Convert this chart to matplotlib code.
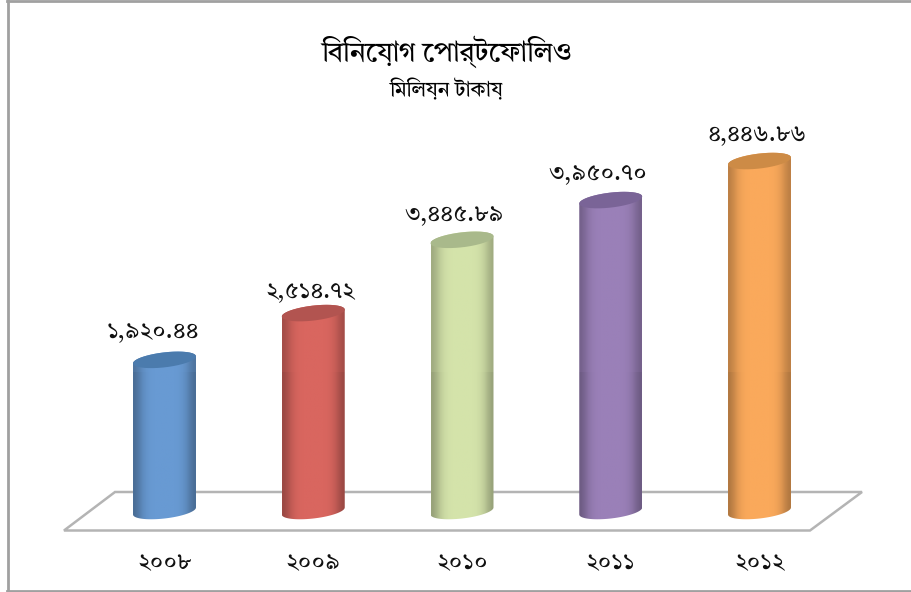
import matplotlib
matplotlib.use("Agg")
import matplotlib.pyplot as plt
from matplotlib.patches import PathPatch, Polygon
from matplotlib.path import Path
from matplotlib.colors import to_rgb
import numpy as np

plt.rcParams["font.family"] = ["Tiro Bangla", "Noto Serif Bengali", "DejaVu Sans"]

W, H = 911, 592

# matplotlib has no text shaper, so pre-base vowel signs are typed before
# their consonant to land where a reader expects them
TITLE = "িবিনেয়াগ েপার্টেফািলও"
SUBTITLE = "িমিলয়ন টাকায়"
YEARS = ["২০০৮", "২০০৯", "২০১০", "২০১১", "২০১২"]
VALUES = [1920.44, 2514.72, 3445.89, 3950.70, 4446.86]
VALUE_LABELS = ["১,৯২০.৪৪", "২,৫১৪.৭২", "৩,৪৪৫.৮৯", "৩,৯৫০.৭০", "৪,৪৪৬.৮৬"]

COLORS = ["#689ad3", "#d9665f", "#d4e3aa", "#9a80b8", "#faa95b"]
CAPS = ["#4b7bad", "#b25450", "#a9b98b", "#7a6497", "#cd8b46"]
LABEL_SHIFT = [(-12, 28), (-3, 21), (-8, 25), (-13, 26), (-3, 26)]

# pixel scale of the value axis and the category axis
PX_PER_UNIT = 0.0787
PX_PER_CAT = 148.75
X0_PX, BASE_PX = 164.5, 511
HALF_W = 31.5 / PX_PER_CAT
RY = 7.5 / PX_PER_UNIT
TILT = 3.5 / PX_PER_UNIT
SEAM = (BASE_PX - 372) / PX_PER_UNIT
PROFILE = np.array([.72, .80, .90, .96, .99, 1, 1, 1, 1, 1, 1, .99, .96, .90, .80, .72])


def px(x, y):
    return x / W, 1 - y / H


def arc(xc, yc, a0, a1):
    a = np.linspace(a0, a1, 40)
    return xc + HALF_W * np.cos(a), yc + TILT * np.cos(a) + RY * np.sin(a)


def cylinder(ax, xc, val, color, cap):
    bx, by = arc(xc, 0, np.pi, 2 * np.pi)
    tx, ty = arc(xc, val, 0, np.pi)
    verts = np.r_[np.c_[bx, by], np.c_[tx, ty]]
    clip = PathPatch(Path(np.r_[verts, verts[:1]], closed=True), fc="none", ec="none")
    ax.add_patch(clip)
    rgb = np.array(to_rgb(color))
    # the source is two pasted pieces, the upper one slightly flatter at the edges
    for lo, hi, prof in [(-RY * 2, min(SEAM, val + RY * 2), PROFILE),
                         (SEAM, val + RY * 2, 0.85 * PROFILE + 0.15)]:
        if hi <= lo:
            continue
        img = np.clip(rgb[None, None, :] * prof[None, :, None], 0, 1)
        im = ax.imshow(img, extent=(xc - HALF_W, xc + HALF_W, lo, hi),
                       aspect="auto", interpolation="bilinear", zorder=3)
        im.set_clip_path(clip)
    cx, cy = arc(xc, val, 0, 2 * np.pi)
    ax.add_patch(Polygon(np.c_[cx, cy], fc=cap, ec="none", zorder=4))


fig = plt.figure(figsize=(W / 100, H / 100), dpi=100)
ax = fig.add_axes([0, 0, 1, 1])
ax.axis("off")

# floor plane under the bars
floor = [px(64, 530.5), px(810, 530.5), px(862, 492), px(115, 492)]
ax.add_patch(Polygon(floor, closed=True, fc="white", ec="#b4b4b4", lw=1.8,
                     transform=ax.transAxes, zorder=1))

for i, (val, col, cap) in enumerate(zip(VALUES, COLORS, CAPS)):
    cylinder(ax, i, val, col, cap)
    dx, dy = LABEL_SHIFT[i]
    ax.annotate(VALUE_LABELS[i], (i, val), xytext=(dx * 0.72, dy * 0.72),
                textcoords="offset points", ha="center", va="center",
                fontsize=17, color="#111111", zorder=5)
    ax.text(i, (BASE_PX - 563) / PX_PER_UNIT, YEARS[i], ha="center", va="center",
            fontsize=17, color="#111111")

ax.set_xlim(-X0_PX / PX_PER_CAT, (W - X0_PX) / PX_PER_CAT)
ax.set_ylim((BASE_PX - H) / PX_PER_UNIT, BASE_PX / PX_PER_UNIT)

ax.text(*px(447.5, 52), TITLE, transform=ax.transAxes, ha="center", va="center",
        fontsize=20, color="black")
ax.text(*px(446, 90), SUBTITLE, transform=ax.transAxes, ha="center", va="center",
        fontsize=15, color="black")

# picture border: left, top and bottom only
for pts in ([px(8, 0), px(8, H)], [px(7, 0.5), px(W, 0.5)], [px(7, 591), px(W, 591)]):
    (x0, y0), (x1, y1) = pts
    ax.plot([x0, x1], [y0, y1], color="#a0a0a0", lw=2, transform=ax.transAxes,
            clip_on=False, zorder=6)

fig.savefig("out.png", dpi=100)
